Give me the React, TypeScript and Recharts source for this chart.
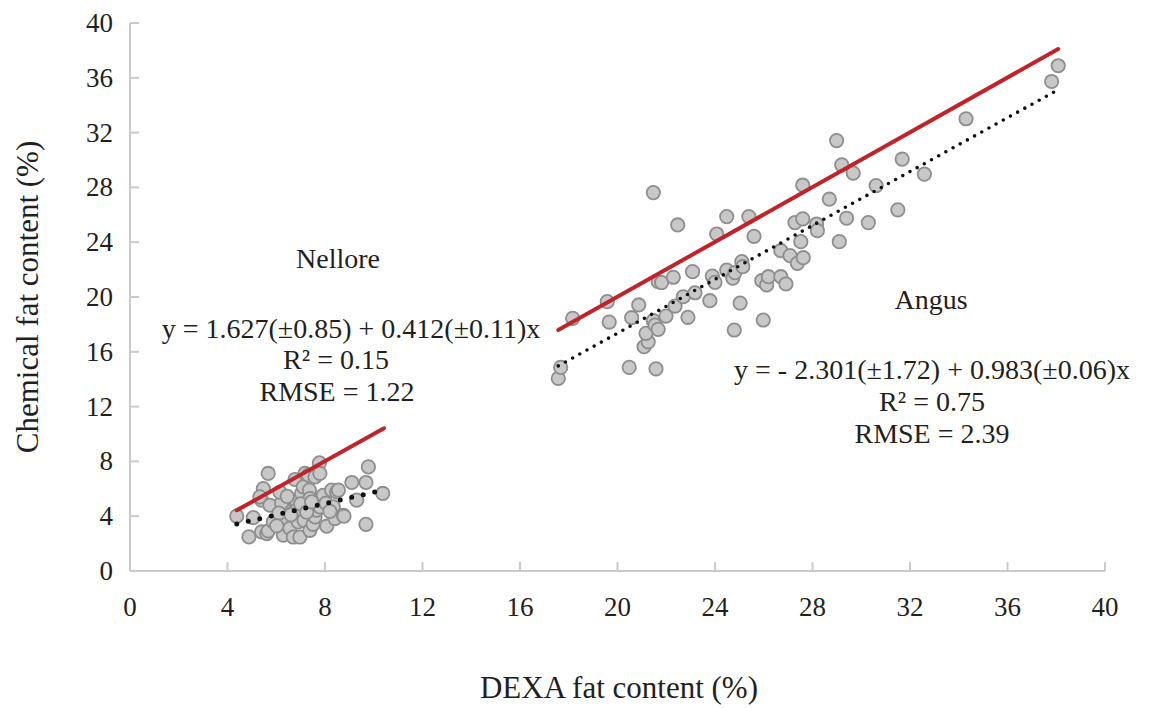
import React from 'react';
import { ScatterChart, Scatter, XAxis, YAxis, Customized } from 'recharts';

const FONT = '"Liberation Serif", "Times New Roman", Times, serif';
const AXIS = '#CACACA';
const TEXT = '#231F20';
const RED = '#C1232B';
const DOT_FILL = '#C8C8C8';
const DOT_STROKE = '#8E8E8E';

const xTicks = [0, 4, 8, 12, 16, 20, 24, 28, 32, 36, 40];
const yTicks = [0, 4, 8, 12, 16, 20, 24, 28, 32, 36, 40];

// Nellore: [DEXA fat %, chemical fat %]
const nellorePoints: [number, number][] = [
  [4.38, 4.0], [4.88, 2.49], [5.06, 3.9], [5.67, 7.12], [5.47, 6.02], [5.4, 5.17], [5.33, 5.41],
  [5.74, 4.8], [5.4, 2.85], [5.61, 2.73], [5.67, 2.92], [5.88, 3.58], [6.29, 2.61], [6.29, 4.8],
  [6.22, 4.97], [6.4, 3.9], [6.11, 4.23], [6.15, 5.75], [6.56, 3.12], [6.77, 6.68], [6.84, 5.04],
  [6.84, 4.44], [6.7, 2.48], [6.97, 2.48], [6.9, 3.58], [7.04, 5.66], [7.11, 6.14], [7.18, 7.12],
  [7.14, 3.7], [7.32, 6.99], [7.36, 5.9], [7.38, 5.29], [7.38, 2.97], [7.51, 3.41], [7.59, 6.87],
  [7.59, 3.95], [7.66, 4.44], [7.77, 7.89], [7.79, 7.12], [7.79, 4.68], [7.93, 5.53], [8.04, 4.95],
  [8.07, 3.27], [8.27, 5.9], [8.34, 4.68], [8.41, 3.83], [8.48, 5.77], [8.55, 5.9], [8.75, 4.07],
  [8.78, 4.0], [9.1, 6.46], [9.3, 5.17], [9.68, 6.46], [9.78, 7.6], [9.68, 3.41], [10.37, 5.66],
  [6.02, 3.3], [6.6, 4.1], [7.0, 4.9], [7.25, 4.3], [7.45, 5.05], [8.2, 4.35], [6.45, 5.45],
];

// Angus: [DEXA fat %, chemical fat %]
const angusPoints: [number, number][] = [
  [17.57, 14.06], [17.67, 14.86], [18.16, 18.44], [19.58, 19.66], [19.66, 18.17], [20.48, 14.86],
  [20.58, 18.49], [20.87, 19.42], [21.09, 16.37], [21.26, 16.73], [21.17, 17.35], [21.47, 27.62],
  [21.47, 18.27], [21.54, 17.95], [21.67, 17.64], [21.58, 14.76], [21.67, 21.12], [21.81, 21.05],
  [21.99, 18.61], [22.29, 21.44], [22.36, 19.34], [22.47, 25.26], [22.7, 20.02], [22.89, 18.52],
  [23.08, 21.85], [23.18, 20.31], [23.79, 19.73], [23.89, 21.53], [24.0, 21.07], [24.07, 24.6],
  [24.48, 25.87], [24.48, 21.97], [24.73, 21.37], [24.79, 17.59], [24.82, 21.78], [25.03, 19.56],
  [25.1, 22.58], [25.14, 22.21], [25.39, 25.87], [25.6, 24.43], [25.92, 21.19], [25.98, 18.32],
  [26.12, 20.88], [26.19, 21.48], [26.7, 23.38], [26.7, 21.48], [26.91, 20.95], [27.08, 23.02],
  [27.28, 25.43], [27.38, 22.46], [27.52, 24.04], [27.6, 28.16], [27.6, 25.7], [27.62, 22.87],
  [28.17, 25.33], [28.2, 24.84], [28.69, 27.14], [28.99, 31.42], [29.1, 24.04], [29.2, 29.65],
  [29.4, 25.75], [29.67, 29.04], [30.29, 25.43], [30.61, 28.13], [31.5, 26.36], [31.68, 30.06],
  [32.59, 28.97], [34.3, 33.01], [37.81, 35.73], [38.08, 36.88],
];

// line endpoints
const nelloreIdentity: [number, number][] = [[4.38, 4.43], [10.42, 10.42]];
const nelloreFit: [number, number][] = [[4.38, 3.43], [10.37, 5.9]];
const angusIdentity: [number, number][] = [[17.57, 17.59], [38.08, 38.1]];
const angusFit: [number, number][] = [[17.57, 14.97], [38.08, 35.13]];

const toObj = (arr: [number, number][]) => arr.map(([x, y]) => ({ x, y }));

const Circle = (props: any) => {
  const { cx, cy } = props;
  if (cx == null || cy == null) return <g />;
  return <circle cx={cx} cy={cy} r={6.7} fill={DOT_FILL} stroke={DOT_STROKE} strokeWidth={1.8} />;
};

const NoShape = () => <g />;

const XTick = (props: any) => {
  const { x, y, payload } = props;
  return (
    <g>
      <line x1={x} x2={x} y1={y} y2={y - 9} stroke={AXIS} strokeWidth={2} />
      <text x={x} y={y + 45} textAnchor="middle" fontFamily={FONT} fontSize={27} fill={TEXT}>
        {payload.value}
      </text>
    </g>
  );
};

const YTick = (props: any) => {
  const { x, y, payload } = props;
  return (
    <g>
      <line x1={x} x2={x + 9} y1={y} y2={y} stroke={AXIS} strokeWidth={2} />
      <text x={x - 17} y={y + 9} textAnchor="end" fontFamily={FONT} fontSize={27} fill={TEXT}>
        {payload.value}
      </text>
    </g>
  );
};

const Annotations = () => (
  <g fontFamily={FONT} fill={TEXT} fontSize={28}>
    <text x={338} y={268} textAnchor="middle">Nellore</text>
    <text x={351} y={338} textAnchor="middle">y = 1.627(±0.85) + 0.412(±0.11)x</text>
    <text x={336} y={369} textAnchor="middle">R² = 0.15</text>
    <text x={337} y={401} textAnchor="middle">RMSE = 1.22</text>
    <text x={931} y={309} textAnchor="middle">Angus</text>
    <text x={932} y={379} textAnchor="middle">y = - 2.301(±1.72) + 0.983(±0.06)x</text>
    <text x={932} y={411} textAnchor="middle">R² = 0.75</text>
    <text x={932} y={443} textAnchor="middle">RMSE = 2.39</text>
    <text x={619} y={698} textAnchor="middle" fontSize={31}>DEXA fat content (%)</text>
    <text transform="translate(38,297) rotate(-90)" textAnchor="middle" fontSize={31}>
      Chemical fat content (%)
    </text>
  </g>
);

export default function App() {
  return (
    <div style={{ position: 'absolute', left: 0, top: 0, width: 1150, height: 708, background: '#fff' }}>
      <ScatterChart width={1150} height={708} margin={{ top: 23, right: 45, bottom: 0, left: 0 }}>
        <XAxis
          type="number"
          dataKey="x"
          domain={[0, 40]}
          ticks={xTicks}
          interval={0}
          height={137}
          tickSize={0}
          tickMargin={0}
          tickLine={false}
          axisLine={{ stroke: AXIS, strokeWidth: 2 }}
          tick={XTick}
          allowDataOverflow
        />
        <YAxis
          type="number"
          dataKey="y"
          domain={[0, 40]}
          ticks={yTicks}
          interval={0}
          width={130}
          tickSize={0}
          tickMargin={0}
          tickLine={false}
          axisLine={{ stroke: AXIS, strokeWidth: 2 }}
          tick={YTick}
          allowDataOverflow
        />
        <Scatter data={toObj(nellorePoints)} shape={Circle} isAnimationActive={false} />
        <Scatter data={toObj(angusPoints)} shape={Circle} isAnimationActive={false} />
        <Scatter
          data={toObj(nelloreFit)}
          shape={NoShape}
          isAnimationActive={false}
          line={{ stroke: '#111', strokeWidth: 5, strokeDasharray: '0 11.8', strokeLinecap: 'round' }}
        />
        <Scatter
          data={toObj(angusFit)}
          shape={NoShape}
          isAnimationActive={false}
          line={{ stroke: '#111', strokeWidth: 3.6, strokeDasharray: '0 8.2', strokeLinecap: 'round' }}
        />
        <Scatter
          data={toObj(nelloreIdentity)}
          shape={NoShape}
          isAnimationActive={false}
          line={{ stroke: RED, strokeWidth: 4, strokeLinecap: 'round' }}
        />
        <Scatter
          data={toObj(angusIdentity)}
          shape={NoShape}
          isAnimationActive={false}
          line={{ stroke: RED, strokeWidth: 4, strokeLinecap: 'round' }}
        />
        <Customized component={Annotations} />
      </ScatterChart>
    </div>
  );
}
